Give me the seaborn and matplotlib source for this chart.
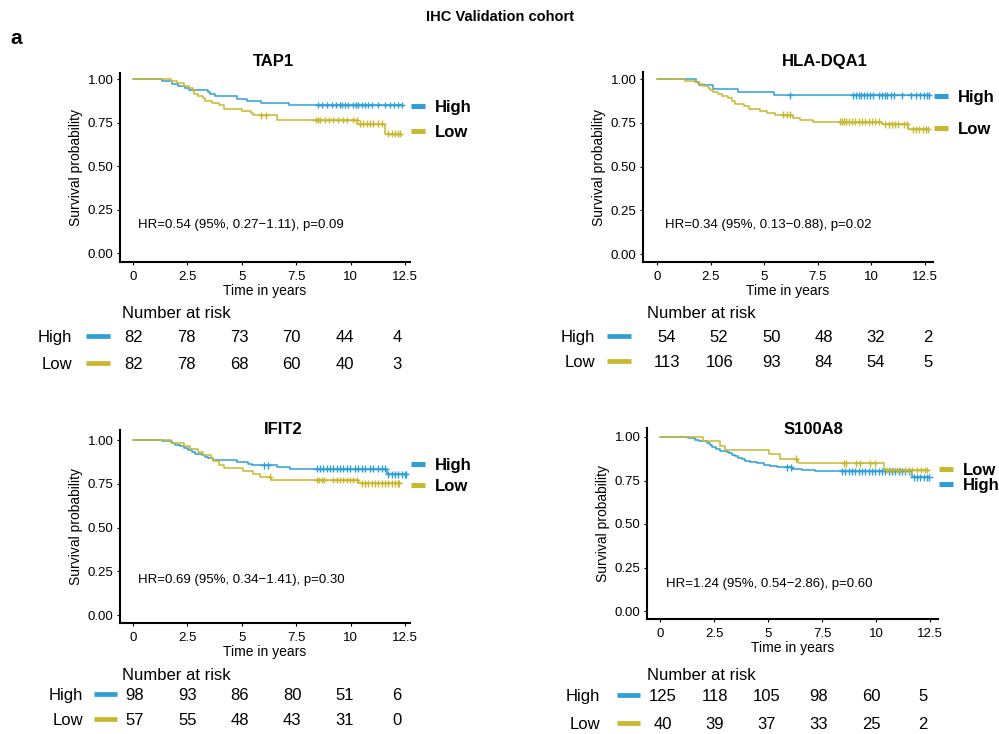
import numpy as np
import pandas as pd
import matplotlib
matplotlib.use('Agg')
import matplotlib.pyplot as plt
import seaborn as sns
from matplotlib import transforms
from matplotlib.lines import Line2D

# ---- data ----
risk_times = [0, 2.5, 5, 7.5, 10, 12.5]
groups = ['High', 'Low']

# TAP1
tap1_high_t = [1.32, 1.78, 2.08, 2.39, 2.59, 3.46, 3.54, 3.75, 4.76, 5.22, 5.88, 7.18]
tap1_high_s = [0.988, 0.975, 0.963, 0.951, 0.939, 0.927, 0.915, 0.902, 0.889, 0.877, 0.864, 0.852]
tap1_high_c = [8.52, 8.67, 8.90, 9.13, 9.31, 9.51, 9.62, 9.74, 9.90, 10.13, 10.24, 10.35, 10.54, 10.66,
               10.81, 10.97, 11.27, 11.58, 11.81, 12.01, 12.19, 12.35]
tap1_low_t = [1.73, 2.01, 2.36, 2.59, 2.77, 2.82, 3.00, 3.23, 3.31, 3.62, 3.97, 4.20, 5.02, 5.42, 5.53,
              6.60, 10.31, 11.60]
tap1_low_s = [0.988, 0.976, 0.963, 0.951, 0.933, 0.915, 0.904, 0.891, 0.878, 0.866, 0.854, 0.829, 0.816,
              0.805, 0.793, 0.766, 0.745, 0.687]
tap1_low_c = [5.90, 6.10, 8.39, 8.49, 8.59, 8.82, 9.01, 9.21, 9.44, 9.67, 9.82, 10.13, 10.28, 10.43, 10.59,
              10.74, 10.89, 11.04, 11.27, 11.45, 11.74, 11.89, 12.04, 12.20, 12.27]
tap1_risk_high = [82, 78, 73, 70, 44, 4]
tap1_risk_low = [82, 78, 68, 60, 40, 3]
tap1_hr = 'HR=0.54 (95%, 0.27\u22121.11), p=0.09'

# HLA-DQA1
hla_high_t = [1.80, 1.97, 2.63, 3.79, 5.47]
hla_high_s = [0.981, 0.963, 0.944, 0.925, 0.907]
hla_high_c = [6.20, 9.16, 9.28, 9.41, 9.53, 9.66, 9.78, 9.94, 10.06, 10.37, 10.50, 10.62, 10.75, 10.90,
              11.06, 11.43, 11.83, 12.06, 12.27, 12.45, 12.61, 12.69]
hla_low_t = [1.31, 1.77, 1.93, 2.16, 2.40, 2.47, 2.63, 2.86, 3.02, 3.33, 3.49, 3.65, 4.04, 4.27, 4.82,
             5.13, 5.50, 6.36, 6.67, 7.29, 10.48, 11.72]
hla_low_s = [0.991, 0.982, 0.973, 0.960, 0.947, 0.936, 0.926, 0.913, 0.903, 0.889, 0.875, 0.858, 0.846,
             0.831, 0.816, 0.806, 0.796, 0.779, 0.768, 0.756, 0.741, 0.713]
hla_low_c = [5.90, 6.05, 6.20, 8.54, 8.63, 8.72, 8.82, 8.94, 9.10, 9.25, 9.41, 9.56, 9.72, 9.88, 10.03,
             10.19, 10.34, 10.64, 10.80, 10.95, 11.11, 11.26, 11.50, 11.65, 11.93, 12.08, 12.24, 12.39,
             12.55, 12.63]
hla_risk_high = [54, 52, 50, 48, 32, 2]
hla_risk_low = [113, 106, 93, 84, 54, 5]
hla_hr = 'HR=0.34 (95%, 0.13\u22120.88), p=0.02'

# IFIT2
ifit_high_t = [1.32, 1.78, 1.93, 2.16, 2.36, 2.54, 2.70, 2.85, 3.16, 3.31, 3.46, 3.68, 4.76, 5.30, 5.45,
               6.60, 7.22, 11.66]
ifit_high_s = [0.992, 0.983, 0.973, 0.964, 0.954, 0.945, 0.931, 0.920, 0.912, 0.905, 0.895, 0.886, 0.876,
               0.865, 0.855, 0.847, 0.837, 0.805]
ifit_high_c = [6.00, 6.22, 8.44, 8.59, 8.75, 8.90, 9.05, 9.21, 9.36, 9.51, 9.67, 9.82, 9.97, 10.20, 10.35,
               10.51, 10.66, 10.89, 11.04, 11.27, 11.46, 11.60, 11.73, 11.89, 12.04, 12.19, 12.35, 12.50,
               12.55]
ifit_low_t = [1.75, 2.36, 2.62, 3.00, 3.20, 3.58, 3.68, 3.96, 4.20, 5.07, 5.53, 5.84, 6.35, 10.36]
ifit_low_s = [0.982, 0.964, 0.947, 0.929, 0.912, 0.895, 0.878, 0.860, 0.842, 0.825, 0.807, 0.790, 0.771,
              0.752]
ifit_low_c = [6.28, 8.44, 8.57, 8.67, 8.80, 9.21, 9.36, 9.51, 9.67, 9.82, 9.97, 10.13, 10.28, 10.51, 10.66,
              10.81, 10.97, 11.12, 11.27, 11.43, 11.58, 11.73, 11.89, 12.04, 12.19, 12.22]
ifit_risk_high = [98, 93, 86, 80, 51, 6]
ifit_risk_low = [57, 55, 48, 43, 31, 0]
ifit_hr = 'HR=0.69 (95%, 0.34\u22121.41), p=0.30'

# S100A8
s100_high_t = [1.30, 1.64, 1.79, 2.18, 2.33, 2.41, 2.61, 2.79, 3.10, 3.21, 3.33, 3.46, 3.61, 3.80, 3.95,
               4.18, 4.49, 4.80, 5.11, 5.42, 6.11, 6.57, 7.19, 11.65]
s100_high_s = [0.992, 0.984, 0.976, 0.968, 0.955, 0.944, 0.933, 0.921, 0.914, 0.906, 0.897, 0.888, 0.880,
               0.872, 0.864, 0.855, 0.848, 0.840, 0.833, 0.826, 0.818, 0.810, 0.802, 0.768]
s100_high_c = [5.88, 6.05, 8.43, 8.58, 8.74, 8.89, 9.04, 9.20, 9.35, 9.51, 9.66, 9.81, 9.97, 10.12, 10.28,
               10.43, 10.59, 10.74, 10.89, 11.05, 11.20, 11.36, 11.51, 11.74, 11.90, 12.05, 12.20, 12.36,
               12.46]
s100_low_t = [1.98, 2.79, 2.99, 5.03, 5.54, 6.37, 10.35]
s100_low_s = [0.975, 0.950, 0.925, 0.900, 0.875, 0.850, 0.810]
s100_low_c = [6.30, 8.50, 8.61, 9.07, 9.27, 9.74, 9.94, 10.50, 10.66, 10.81, 10.97, 11.12, 11.35, 11.51,
              11.66, 11.89, 12.09, 12.28, 12.36]
s100_risk_high = [125, 118, 105, 98, 60, 5]
s100_risk_low = [40, 39, 37, 33, 25, 2]
s100_hr = 'HR=1.24 (95%, 0.54\u22122.86), p=0.60'

pal = {'High': '#2E9FD4', 'Low': '#C9B82F'}

# ---- layout (pixels in a 999x734 canvas) ----
W, H = 999, 734


def fx(x):
    return x / W


def fy(y):
    return 1 - y / H


sns.set_style('ticks')
plt.rcParams['font.family'] = ['Liberation Sans', 'DejaVu Sans']
plt.rcParams['text.color'] = 'black'
plt.rcParams['axes.labelcolor'] = 'black'

fig = plt.figure(figsize=(W / 100, H / 100), dpi=100)


def ftext(x, y, s, size, **kw):
    # y is the visual centre of the capitals, in pixels
    fig.text(fx(x), fy(y + 0.36 * size * 100 / 72), s, fontsize=size, va='baseline', **kw)


def km_frame(event_t, event_s, cens, group):
    end = max(cens[-1], event_t[-1])
    t = [0] + list(event_t) + [end]
    s = [1.0] + list(event_s) + [event_s[-1]]
    lv = np.array([1.0] + list(event_s))
    cs = lv[np.searchsorted(event_t, cens, side='right')]
    return (pd.DataFrame({'time': t, 'surv': s, 'group': group}),
            pd.DataFrame({'time': cens, 'surv': cs, 'group': group}))


def draw_panel(name, curves, hr, risk, lay):
    ax = fig.add_axes([fx(lay['ax'][0]), fy(lay['ax'][3]),
                       fx(lay['ax'][2] - lay['ax'][0]), (lay['ax'][3] - lay['ax'][1]) / H])
    x0, x125, y1, y0 = lay['anchors']
    ppu = (x125 - x0) / 12.5
    ppy = y0 - y1
    ax.set_xlim((lay['ax'][0] - x0) / ppu, (lay['ax'][2] - x0) / ppu)
    ax.set_ylim((y0 - lay['ax'][3]) / ppy, (y0 - lay['ax'][1]) / ppy)

    steps, cens = [], []
    for g in groups:
        a, b = km_frame(*curves[g], g)
        steps.append(a)
        cens.append(b)
    steps = pd.concat(steps, ignore_index=True)
    cens = pd.concat(cens, ignore_index=True)
    sns.lineplot(data=steps, x='time', y='surv', hue='group', palette=pal, estimator=None, sort=False,
                 drawstyle='steps-post', linewidth=1.1, legend=False, ax=ax)
    sns.scatterplot(data=cens, x='time', y='surv', hue='group', palette=pal, marker='+', s=24,
                    linewidth=1.0, legend=False, ax=ax, zorder=3)

    ax.set_xticks(risk_times)
    ax.set_xticklabels(['0', '2.5', '5', '7.5', '10', '12.5'])
    ax.set_yticks([0, 0.25, 0.5, 0.75, 1.0])
    ax.set_yticklabels(['0.00', '0.25', '0.50', '0.75', '1.00'])
    ax.tick_params(axis='both', length=2.2, width=0.8, labelsize=9.5, pad=2.5, colors='black')
    ax.tick_params(axis='x', pad=4)
    for sp in ['left', 'bottom']:
        ax.spines[sp].set_linewidth(1.5)
        ax.spines[sp].set_color('black')
    sns.despine(ax=ax)
    ax.set_xlabel('Time in years', fontsize=10, labelpad=1)
    ax.set_ylabel('Survival probability', fontsize=10, labelpad=3)

    ax.text(lay['hr'][0], lay['hr'][1], hr, fontsize=9.5, va='center', ha='left')

    # curve labels at the right
    tr = transforms.blended_transform_factory(ax.transAxes, ax.transData)
    for g in groups:
        yv = lay['legend'][g]
        ax.plot([1.003, 1.052], [yv, yv], transform=tr, color=pal[g], lw=3.6,
                solid_capstyle='butt', clip_on=False)
        ax.text(1.085, yv, g, transform=tr, fontsize=12, fontweight='bold', va='center_baseline')

    ftext(lay['title'][0], lay['title'][1], name, 12, ha='center', fontweight='bold')

    # number at risk table
    t0, t1 = lay['table_x']
    tab = fig.add_axes([fx(t0), fy(lay['rows']['Low'] + 5), fx(t1 - t0), 0.01])
    tab.set_xlim(0, 12.5)
    tab.axis('off')
    ttr = transforms.blended_transform_factory(tab.transData, fig.transFigure)
    ftext(lay['header_x'], lay['header_y'], 'Number at risk', 12, ha='left')
    for g in groups:
        ry = lay['rows'][g]
        ftext(lay['label_right'], ry, g, 12, ha='right')
        fig.add_artist(Line2D([fx(lay['seg'][0]), fx(lay['seg'][1])], [fy(ry), fy(ry)],
                              transform=fig.transFigure, color=pal[g], lw=3.4, solid_capstyle='butt'))
        for t, n in zip(risk_times, risk[g]):
            tab.text(t, fy(ry + 0.36 * 12 * 100 / 72), str(n), transform=ttr, fontsize=12,
                     ha='center', va='baseline')


panels = [
    ('TAP1', {'High': (tap1_high_t, tap1_high_s, tap1_high_c), 'Low': (tap1_low_t, tap1_low_s, tap1_low_c)},
     tap1_hr, {'High': tap1_risk_high, 'Low': tap1_risk_low},
     dict(ax=(120, 73, 410, 262), anchors=(133, 405, 79.3, 253.3), title=(273, 60), hr=(0.23, 0.163),
          legend={'High': 0.848, 'Low': 0.703}, table_x=(134, 397), header_x=122, header_y=312,
          rows={'High': 336, 'Low': 363}, label_right=72, seg=(86, 110))),
    ('HLA-DQA1', {'High': (hla_high_t, hla_high_s, hla_high_c), 'Low': (hla_low_t, hla_low_s, hla_low_c)},
     hla_hr, {'High': hla_risk_high, 'Low': hla_risk_low},
     dict(ax=(643, 72, 933, 262), anchors=(657, 925, 79, 254), title=(825, 60), hr=(0.37, 0.166),
          legend={'High': 0.903, 'Low': 0.72}, table_x=(667, 928), header_x=647, header_y=312,
          rows={'High': 336, 'Low': 361}, label_right=595, seg=(607, 631))),
    ('IFIT2', {'High': (ifit_high_t, ifit_high_s, ifit_high_c), 'Low': (ifit_low_t, ifit_low_s, ifit_low_c)},
     ifit_hr, {'High': ifit_risk_high, 'Low': ifit_risk_low},
     dict(ax=(120, 430, 410, 623), anchors=(133, 405, 440, 615), title=(283, 428), hr=(0.23, 0.2),
          legend={'High': 0.863, 'Low': 0.743}, table_x=(135, 397), header_x=122, header_y=674,
          rows={'High': 694, 'Low': 719}, label_right=83, seg=(94, 117))),
    ('S100A8', {'High': (s100_high_t, s100_high_s, s100_high_c), 'Low': (s100_low_t, s100_low_s, s100_low_c)},
     s100_hr, {'High': s100_risk_high, 'Low': s100_risk_low},
     dict(ax=(647, 428, 938, 619), anchors=(660, 930, 437, 611), title=(813, 428), hr=(0.28, 0.155),
          legend={'High': 0.73, 'Low': 0.816}, table_x=(663, 923), header_x=647, header_y=674,
          rows={'High': 695, 'Low': 723}, label_right=600, seg=(617, 640))),
]

for name, curves, hr, risk, lay in panels:
    draw_panel(name, curves, hr, risk, lay)

ftext(500, 16, 'IHC Validation cohort', 10.5, ha='center', fontweight='bold')
ftext(16, 36, 'a', 15, ha='center', fontweight='bold')

fig.savefig('out.png', dpi=100)
